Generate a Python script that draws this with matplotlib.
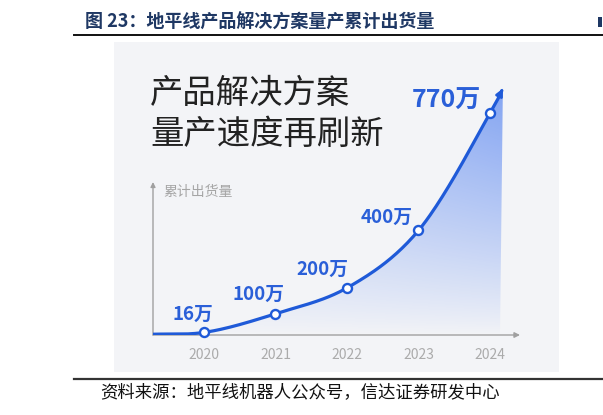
import numpy as np
import matplotlib
matplotlib.use("Agg")
import matplotlib.pyplot as plt
from matplotlib.patches import Rectangle, Polygon
from matplotlib.lines import Line2D

plt.rcParams['font.family'] = ['Noto Sans CJK SC', 'DejaVu Sans']

# ---- data ----
years = [2020, 2021, 2022, 2023, 2024]
shipments = [16, 100, 200, 400, 770]          # 万
point_labels = ["16万", "100万", "200万", "400万", "770万"]
year_labels = ["2020", "2021", "2022", "2023", "2024"]
fig_title = "图 23：地平线产品解决方案量产累计出货量"
headline = "产品解决方案\n量产速度再刷新"
y_name = "累计出货量"
source = "资料来源：地平线机器人公众号，信达证券研发中心"

W, H = 603, 415
fig = plt.figure(figsize=(W / 100, H / 100), dpi=100)
fig.patch.set_facecolor("white")

def fx(px):
    return px / W

def fy(py):
    return 1 - py / H

# card background
fig.patches.append(Rectangle((fx(114), fy(372)), fx(559) - fx(114), fy(42) - fy(372),
                             transform=fig.transFigure, facecolor="#f3f4f7",
                             edgecolor="none", zorder=-5))
# small page-edge mark
fig.patches.append(Rectangle((fx(598), fy(27)), fx(4), fy(17) - fy(27),
                             transform=fig.transFigure, facecolor="#1f3864",
                             edgecolor="none", zorder=-4))
# header / footer rules
fig.lines.append(Line2D([fx(74), 1.0], [fy(35), fy(35)], transform=fig.transFigure,
                        color="#111111", lw=1.4))
fig.lines.append(Line2D([fx(74), 1.0], [fy(379), fy(379)], transform=fig.transFigure,
                        color="#333333", lw=1.6))
fig.text(fx(85), fy(22), fig_title, fontsize=13, fontweight="bold", color="#1f3864",
         va="center", ha="left")
fig.text(fx(100), fy(392), source, fontsize=12.5, color="#111111", va="center", ha="left",
         style="italic")

# headline
fig.text(fx(150), fy(114), headline, fontsize=24, color="#222222", va="center", ha="left",
         linespacing=1.2, fontweight="medium")

# ---- chart axes ----
px_per_year = 71.5
x_left = 2020 - (204 - 153) / px_per_year
x_right = 2024 + (520 - 490) / px_per_year
ax = fig.add_axes([fx(153), fy(335), fx(520) - fx(153), fy(85) - fy(335)])
ax.set_xlim(x_left, x_right)
pw = 1.15
ax.set_yscale("function", functions=(lambda v: np.sign(v) * np.abs(v) ** pw,
                                     lambda u: np.sign(u) * np.abs(u) ** (1 / pw)))
ymax = 770 * (250 / 222) ** (1 / pw)
ax.set_ylim(0, ymax)
ax.patch.set_alpha(0)
for s in ax.spines.values():
    s.set_visible(False)
ax.set_yticks([])
ax.minorticks_off()
ax.set_xticks(years)
ax.set_xticklabels(year_labels)
ax.tick_params(axis="x", length=0, pad=9, labelsize=10, labelcolor="#ababab")
ax.tick_params(axis="y", which="both", length=0, labelleft=False)

axis_col = "#a0a0a0"
ax.annotate("", xy=(1.0, 0), xytext=(0, 0), xycoords="axes fraction",
            arrowprops=dict(arrowstyle="-|>", color=axis_col, lw=1.0,
                            mutation_scale=8, shrinkA=0, shrinkB=0))
ax.annotate("", xy=(0, 153 / 250), xytext=(0, 0), xycoords="axes fraction",
            arrowprops=dict(arrowstyle="-|>", color=axis_col, lw=1.0,
                            mutation_scale=7, shrinkA=0, shrinkB=0))
ax.text(10 / 367, 143 / 250, y_name, transform=ax.transAxes, fontsize=10, color="#a5a5a5",
        va="center", ha="left")

# smooth curve (Catmull-Rom through the data, rendering only)
xs = np.array(years, dtype=float)
ys = np.array(shipments, dtype=float)
start = (x_left, ys[0] * 0.35)
end_dx = 0.18
end = (xs[-1] + end_dx, ys[-1] + end_dx * (ys[-1] - ys[-2]) * 1.1)
P = np.vstack([[start], np.column_stack([xs, ys]), [end]])
Pp = np.vstack([P[0] - (P[1] - P[0]), P, P[-1] + (P[-1] - P[-2])])
cx, cy = [], []
for i in range(1, len(Pp) - 2):
    p0, p1, p2, p3 = Pp[i - 1], Pp[i], Pp[i + 1], Pp[i + 2]
    t = np.linspace(0, 1, 40)[:, None]
    seg = 0.5 * ((2 * p1) + (-p0 + p2) * t + (2 * p0 - 5 * p1 + 4 * p2 - p3) * t ** 2
                 + (-p0 + 3 * p1 - 3 * p2 + p3) * t ** 3)
    cx.extend(seg[:, 0]); cy.extend(seg[:, 1])
cx = np.array(cx); cy = np.maximum(np.array(cy), 0)

# gradient fill under curve (built in axes fraction)
nx, ny = 300, 300
GX, GY = np.meshgrid(np.linspace(0, 1, nx), np.linspace(0, 1, ny))
alpha = np.clip(0.58 * (GY / (222 / 250)) ** 0.85 * (0.45 + 0.55 * GX), 0, 0.62)
img = np.zeros((ny, nx, 4))
img[..., 0] = 0.24
img[..., 1] = 0.45
img[..., 2] = 0.94
img[..., 3] = alpha
im = ax.imshow(img, extent=[0, 1, 0, 1], transform=ax.transAxes, origin="lower",
               aspect="auto", zorder=1, interpolation="bilinear")
poly_pts = np.vstack([np.column_stack([cx, cy]), [[end[0] - 0.04, 0], [x_left, 0]]])
clip_poly = Polygon(poly_pts, closed=True, transform=ax.transData, facecolor="none",
                    edgecolor="none")
ax.add_patch(clip_poly)
im.set_clip_path(clip_poly)
ax.set_xlim(x_left, x_right)
ax.set_ylim(0, ymax)

line_col = "#1f5ad8"
ax.plot(cx[:-4], cy[:-4], color=line_col, lw=2.3, zorder=3, solid_capstyle="round")
ax.annotate("", xy=(cx[-1], cy[-1]), xytext=(cx[-8], cy[-8]), xycoords="data",
            arrowprops=dict(arrowstyle="-|>", color=line_col, lw=2.0, mutation_scale=10,
                            shrinkA=0, shrinkB=0), zorder=4)
ax.plot(xs, ys, "o", ms=6.5, mfc="white", mec=line_col, mew=1.7, zorder=5, clip_on=False)

label_col = "#2a5fd8"
# offsets in pixels (dx, dy up) from each point to the label centre
offsets_px = [(-11, 18), (-17, 19), (-25, 19), (-32, 13), (-44, 12)]
sizes = [13.5, 13.5, 13.5, 13.5, 18]
for x, y, lab, (dx, dy), fs in zip(xs, ys, point_labels, offsets_px, sizes):
    ax.annotate(lab, xy=(x, y), xytext=(dx * 0.72, dy * 0.72), textcoords="offset points",
                fontsize=fs, fontweight="bold", color=label_col,
                ha="center", va="center", zorder=6)

fig.savefig("out.png", dpi=100, facecolor="white")
